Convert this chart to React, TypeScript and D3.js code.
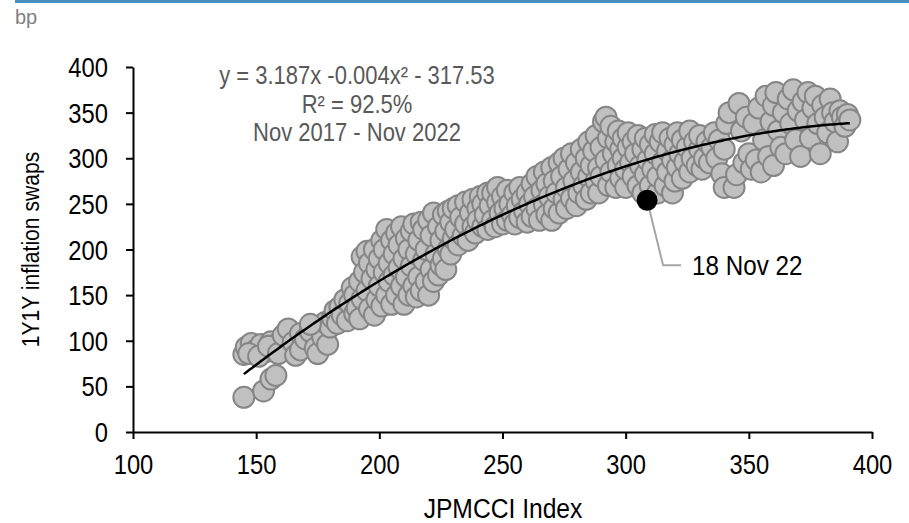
import React, { useEffect, useRef } from "react";
import * as d3 from "d3";

// JPMCCI index level vs 1Y1Y inflation swaps (bp)
const jpmcci = [
  145, 153, 156, 158, 145, 146, 148, 150, 152, 154, 156, 158, 160, 147, 151, 155, 159,
  161, 163, 165, 166, 168, 168, 170, 172, 174, 175, 176, 177, 178, 179, 180, 172,
  181, 182, 183, 184, 185, 186, 187, 188, 189, 190, 190, 191, 192, 192, 193, 193, 194, 195, 195, 196, 196, 197, 198, 198, 199, 199,
  200, 200, 201, 201, 202, 202, 203, 203, 204, 204, 205, 205, 206, 206, 207, 207, 208, 208, 209, 209, 210, 210, 211, 211, 212, 212, 213, 213, 214, 214, 215, 215,
  216, 216, 217, 217, 218, 218, 219, 219, 220, 220, 221, 221, 222, 222, 223, 224, 224, 225, 225, 226, 226, 227, 227, 228, 228, 229, 229, 230, 230,
  231, 232, 232, 233, 234, 235, 235, 236, 237, 238, 238, 239, 240, 240, 241, 242, 242, 243, 244, 244, 245,
  246, 246, 247, 248, 248, 249, 250, 250, 251, 252, 252, 253, 254, 255, 255, 256, 257, 257, 258, 259, 260, 260,
  261, 262, 262, 263, 264, 264, 265, 266, 267, 267, 268, 268, 269, 270, 270, 271, 271, 272, 273, 273, 274, 275, 275,
  276, 276, 277, 278, 278, 279, 280, 280, 281, 282, 282, 283, 284, 284, 285, 285, 286, 286, 287, 288, 288, 289, 289, 290, 290,
  291, 292, 292, 293, 293, 294, 294, 295, 296, 296, 297, 297, 298, 298, 299, 299, 300, 300,
  301, 301, 302, 303, 303, 304, 305, 305, 306, 307, 307, 308, 308, 309, 310, 310, 311, 312, 312, 313, 313, 314, 315, 315, 316, 317, 317, 318, 319, 319, 320, 320,
  321, 321, 322, 323, 323, 324, 325, 326, 326, 327, 328, 329, 330, 330, 331, 332, 333, 334, 335, 336, 337, 338, 339, 340, 340,
  341, 342, 344, 345, 346, 347, 348, 349, 350, 351, 352, 353, 354, 355, 356, 357, 358, 359, 360, 360,
  361, 362, 363, 364, 365, 366, 367, 368, 369, 370, 371, 372, 373, 374, 375, 376, 377, 378, 379, 380, 381, 382, 383, 384, 385, 386, 387, 388, 389, 390, 391,
];
const swaps = [
  38, 45, 58, 62, 85, 93, 97, 90, 96, 88, 99, 92, 100, 86, 83, 94, 86,
  106, 113, 98, 84, 90, 108, 102, 110, 92, 86, 112, 104, 120, 96, 115, 118,
  125, 133, 119, 137, 128, 145, 122, 141, 158, 150, 130, 136, 124, 165, 192, 146, 175, 155, 198, 185, 135, 168, 128, 200, 178, 145,
  190, 160, 210, 138, 175, 200, 150, 222, 185, 165, 210, 140, 195, 172, 218, 150, 180, 205, 160, 225, 190, 140, 212, 170, 200, 150, 220, 182, 160, 228, 195, 148,
  210, 170, 230, 155, 188, 222, 165, 200, 232, 150, 178, 215, 240, 165, 195, 225, 172, 210, 183, 238, 190, 220, 178, 200, 242, 230, 195, 212, 245,
  222, 205, 248, 235, 215, 252, 228, 210, 240, 225, 255, 218, 245, 232, 258, 225, 250, 238, 262, 222, 248,
  232, 262, 225, 252, 268, 240, 228, 258, 245, 265, 232, 250, 238, 262, 228, 248, 268, 235, 255, 242, 262, 230,
  250, 272, 236, 258, 245, 280, 232, 265, 250, 285, 238, 272, 258, 290, 232, 245, 275, 262, 295, 240, 280, 255, 300,
  268, 245, 288, 305, 256, 275, 295, 248, 262, 310, 285, 270, 300, 255, 318, 280, 292, 262, 308, 275, 325, 290, 262, 312, 280,
  340, 345, 298, 270, 322, 285, 335, 305, 268, 318, 292, 330, 278, 310, 300, 322, 268, 288,
  312, 328, 295, 280, 318, 305, 270, 325, 292, 310, 262, 282, 322, 298, 270, 315, 288, 305, 326, 262, 280, 318, 296, 328, 270, 308, 285, 322, 262, 298, 275, 315,
  328, 290, 305, 278, 320, 296, 312, 285, 330, 300, 318, 292, 310, 325, 288, 300, 318, 295, 312, 328, 300, 320, 283, 268, 310,
  338, 350, 268, 282, 360, 330, 295, 345, 305, 288, 338, 298, 355, 285, 320, 368, 302, 340, 292, 358,
  372, 330, 312, 350, 305, 365, 338, 375, 320, 352, 302, 362, 342, 372, 322, 355, 368, 338, 305, 358, 345, 328, 365, 350, 340, 318, 352, 345, 335, 348, 342,
];
// latest observation, 18 Nov 22
const latest = { x: 308.7, y: 254, label: "18 Nov 22" };
// fitted quadratic (displayed rounded in the chart label)
const fit = { b1: 3.187, b2: -0.00386, b0: -317.53, from: 145, to: 391 };
const xTicks = [100, 150, 200, 250, 300, 350, 400];
const yTicks = [0, 50, 100, 150, 200, 250, 300, 350, 400];
const fitLabel = ["y = 3.187x -0.004x² - 317.53", "R² = 92.5%", "Nov 2017 - Nov 2022"];

const W = 909, H = 523;
const FONT = "'Liberation Sans', Arial, sans-serif";
const SQUEEZE = 0.88; // the original uses a narrow face

function label(parent: any, x: number, y: number, str: string, size: number, opts: any = {}) {
  const rot = opts.rotate ? ` rotate(${opts.rotate})` : "";
  const sq = opts.squeeze ?? SQUEEZE;
  return parent.append("text")
    .attr("transform", `translate(${x},${y})${rot} scale(${sq},1)`)
    .attr("text-anchor", opts.anchor || "start")
    .attr("fill", opts.fill || "#000")
    .style("font-family", FONT).style("font-size", size + "px")
    .text(str);
}

export default function App() {
  const ref = useRef<SVGSVGElement>(null);

  useEffect(() => {
    const svg = d3.select(ref.current);
    svg.selectAll("*").remove();

    const x = d3.scaleLinear().domain([100, 400]).range([133, 872]);
    const y = d3.scaleLinear().domain([0, 400]).range([432, 67]);

    // top rule + unit
    svg.append("rect").attr("x", 15).attr("y", 0).attr("width", W - 15).attr("height", 3).attr("fill", "#4a91c2");
    label(svg, 15, 24, "bp", 20, { fill: "#7f7f7f", squeeze: 1 });

    // axes
    const gx = svg.append("g").attr("transform", `translate(0,${y(0)})`)
      .call(d3.axisBottom(x).tickValues(xTicks).tickSize(7).tickSizeOuter(0));
    const gy = svg.append("g").attr("transform", `translate(${x(100)},0)`)
      .call(d3.axisLeft(y).tickValues(yTicks).tickSize(7).tickSizeOuter(0));
    [gx, gy].forEach(g => {
      g.select(".domain").attr("stroke", "#000").attr("stroke-width", 2);
      g.selectAll(".tick line").attr("stroke", "#000").attr("stroke-width", 2);
      g.selectAll(".tick text").remove();
    });
    gx.selectAll(".tick").each(function (d: any) {
      label(d3.select(this), 0, 42, String(d), 27, { anchor: "middle" });
    });
    gy.selectAll(".tick").each(function (d: any) {
      label(d3.select(this), -25, 9.5, String(d), 27, { anchor: "end" });
    });

    label(svg, 503, 518, "JPMCCI Index", 28, { anchor: "middle" });
    label(svg, 39, y(200), "1Y1Y inflation swaps", 24, { anchor: "middle", rotate: -90 });

    // scatter
    const pts = jpmcci.map((v, i) => [v, swaps[i]]);
    svg.append("g").selectAll("circle").data(pts).join("circle")
      .attr("cx", d => x(d[0])).attr("cy", d => y(d[1])).attr("r", 10.5)
      .attr("fill", "#c0c0c0").attr("stroke", "#868686").attr("stroke-width", 2);

    // regression curve
    const xs = d3.range(fit.from, fit.to + 0.5, 1);
    svg.append("path")
      .attr("d", d3.line<number>().x(v => x(v)).y(v => y(fit.b0 + fit.b1 * v + fit.b2 * v * v))(xs))
      .attr("fill", "none").attr("stroke", "#000").attr("stroke-width", 2.5);

    // latest point + callout
    const lx = x(latest.x), ly = y(latest.y);
    svg.append("path").attr("d", `M${lx},${ly} L${lx + 16},${ly + 65} L${lx + 34},${ly + 65}`)
      .attr("fill", "none").attr("stroke", "#a6a6a6").attr("stroke-width", 2);
    svg.append("circle").attr("cx", lx).attr("cy", ly).attr("r", 10.5).attr("fill", "#000");
    label(svg, lx + 45, ly + 75, latest.label, 27.5);

    // fit label
    fitLabel.forEach((t, i) => label(svg, 357, 84 + i * 28.5, t, 25, { anchor: "middle", fill: "#595959" }));
  }, []);

  return <svg ref={ref} width={W} height={H} style={{ position: "absolute", left: 0, top: 0, background: "#fff" }} />;
}
